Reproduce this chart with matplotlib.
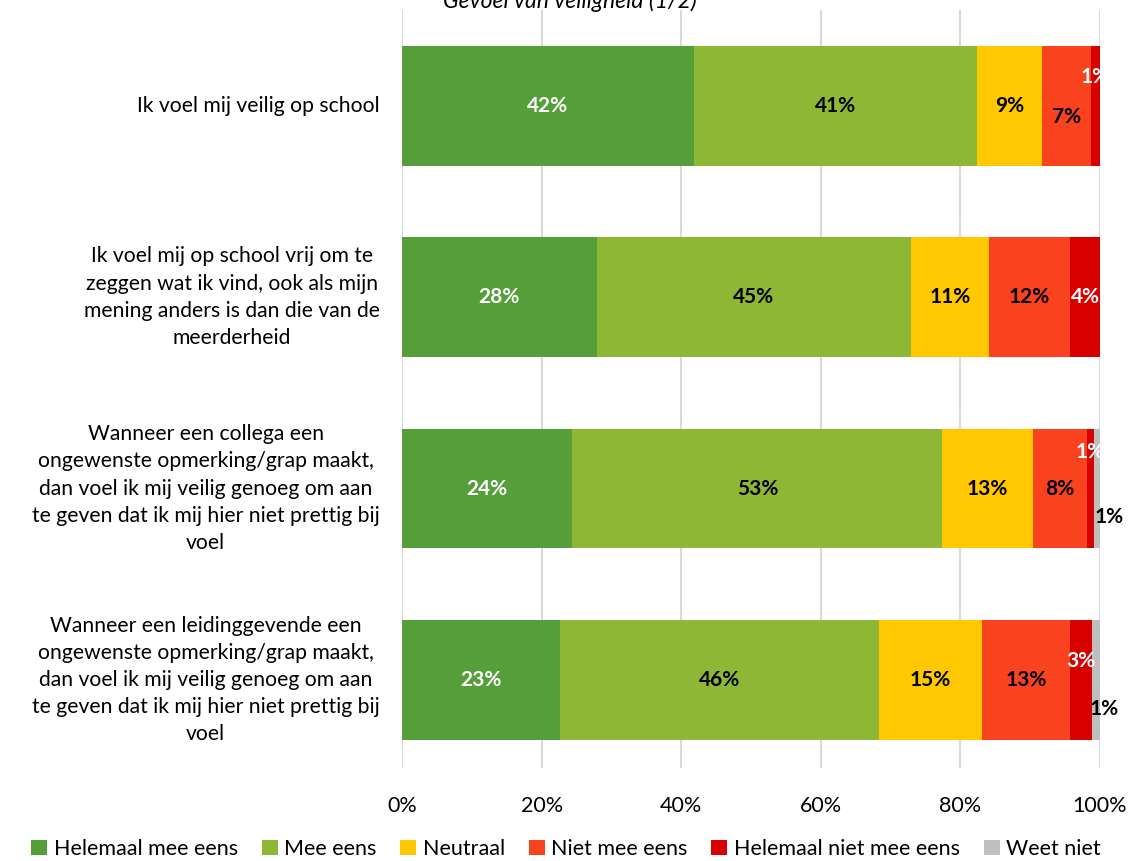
import matplotlib.pyplot as plt
import numpy as np

plt.rcParams['font.family'] = ['Lato', 'DejaVu Sans']

categories = [
    "Ik voel mij veilig op school",
    "Ik voel mij op school vrij om te\nzeggen wat ik vind, ook als mijn\nmening anders is dan die van de\nmeerderheid",
    "Wanneer een collega een\nongewenste opmerking/grap maakt,\ndan voel ik mij veilig genoeg om aan\nte geven dat ik mij hier niet prettig bij\nvoel",
    "Wanneer een leidinggevende een\nongewenste opmerking/grap maakt,\ndan voel ik mij veilig genoeg om aan\nte geven dat ik mij hier niet prettig bij\nvoel",
]
series = ["Helemaal mee eens", "Mee eens", "Neutraal", "Niet mee eens",
          "Helemaal niet mee eens", "Weet niet"]
colors = ["#559E3A", "#8DB735", "#FFC800", "#F9431F", "#D90000", "#BFBFBF"]
text_colors = ["white", "black", "black", "black", "white", "black"]

# percentages per series, one value per category
values = [
    [41.8, 27.9, 24.4, 22.6],
    [40.6, 45.0, 53.0, 45.7],
    [9.3, 11.2, 13.0, 14.8],
    [7.0, 11.6, 7.7, 12.6],
    [1.3, 4.3, 1.0, 3.2],
    [0.0, 0.0, 0.9, 1.1],
]
labels = [
    ["42%", "28%", "24%", "23%"],
    ["41%", "45%", "53%", "46%"],
    ["9%", "11%", "13%", "15%"],
    ["7%", "12%", "8%", "13%"],
    ["1%", "4%", "1%", "3%"],
    ["", "", "1%", "1%"],
]
# label offsets (x in %, y in bar units) for small segments
offsets = {
    (3, 0): (0, 0.06),
    (4, 0): (0, -0.15),
    (4, 2): (0, -0.19),
    (4, 3): (0, -0.10),
    (5, 2): (1.8, 0.15),
    (5, 3): (1.2, 0.15),
}

fig = plt.figure(figsize=(11.31, 8.61), dpi=100)
ax = fig.add_axes([402 / 1131, 1 - 768 / 861, 698 / 1131, 758 / 861])

y = np.arange(len(categories))
left = np.zeros(len(categories))
for i, name in enumerate(series):
    vals = np.array(values[i])
    ax.barh(y, vals, left=left, height=0.626, color=colors[i], label=name, zorder=3)
    for j in range(len(categories)):
        if labels[i][j] == "":
            continue
        dx, dy = offsets.get((i, j), (0, 0))
        ax.text(left[j] + vals[j] / 2 + dx, y[j] + dy, labels[i][j],
                ha='center', va='center', color=text_colors[i],
                fontsize=15, fontweight='bold', zorder=4)
    left += vals

ax.set_xlim(0, 100)
ax.set_ylim(3.46, -0.5)
ax.set_xticks(np.arange(0, 101, 20))
ax.set_xticklabels([f"{v}%" for v in range(0, 101, 20)], fontsize=15.5)
ax.set_yticks([])
ax.grid(axis='x', color='#D9D9D9', linewidth=1.5, zorder=0)
for s in ax.spines.values():
    s.set_visible(False)
ax.tick_params(axis='x', length=0, pad=20)

for j, cat in enumerate(categories):
    ax.text(-0.032, y[j], cat, transform=ax.get_yaxis_transform(),
            ha='right', va='center', multialignment='center',
            fontsize=15.2, linespacing=1.45)

fig.text(570 / 1131, 1 - 1 / 861, "Gevoel van veiligheid (1/2)", ha='center',
         va='center', fontsize=16.5, style='italic')

ax.legend(loc='center', bbox_to_anchor=(566 / 1131, 1 - 849 / 861),
          bbox_transform=fig.transFigure, ncol=6, frameon=False,
          fontsize=15.5, handlelength=0.75, handleheight=0.75,
          handletextpad=0.3, columnspacing=1.1)

fig.savefig("out.png", dpi=100)
